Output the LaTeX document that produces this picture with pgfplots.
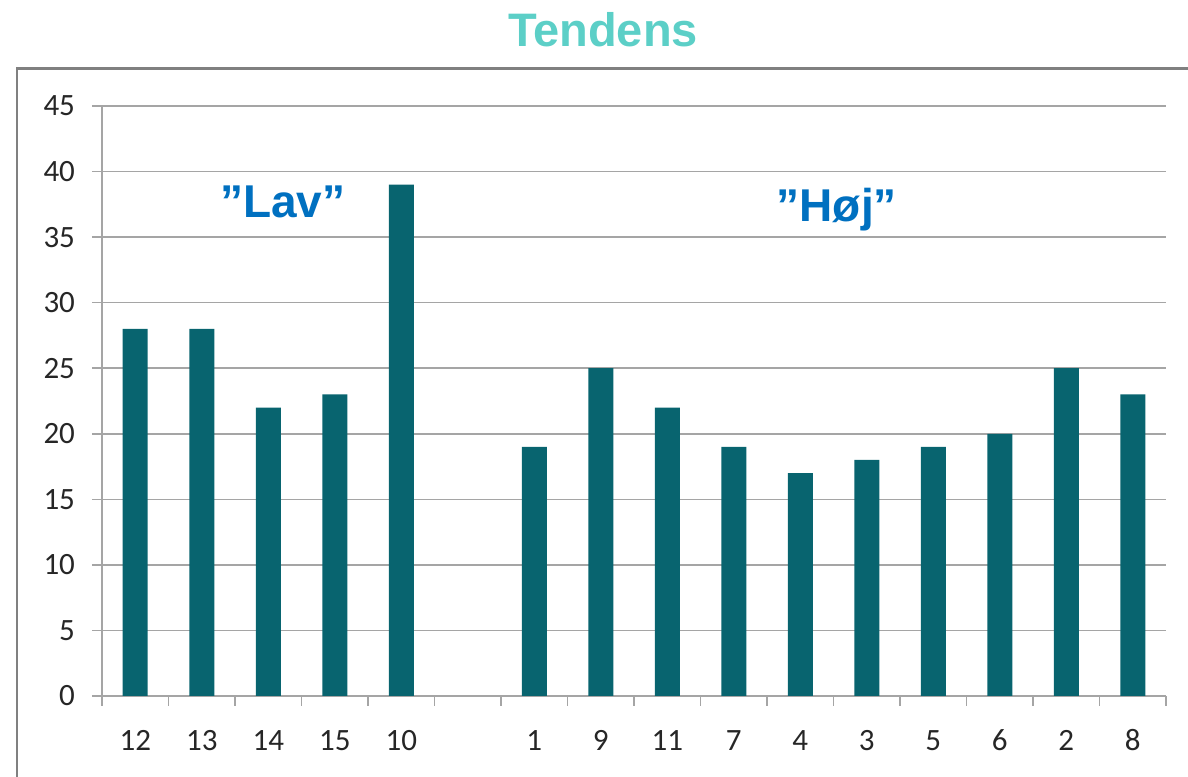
\documentclass[border=0pt]{standalone}
\usepackage{pgfplots}
\pgfplotsset{compat=1.18}
\usepackage{fontspec}
\setmainfont{Carlito}
\newfontfamily\arial{Liberation Sans}
\definecolor{barc}{RGB}{8,100,111}
\definecolor{ttl}{RGB}{92,207,199}
\definecolor{lbl}{RGB}{0,112,192}
\definecolor{grd}{RGB}{165,165,165}
\definecolor{brd}{RGB}{128,128,128}
\begin{document}
\begin{tikzpicture}
\useasboundingbox (0,0) rectangle (594pt,388pt);
\draw[line width=1.4pt, brd] (8.5pt,-5pt) -- (8.5pt,353.8pt) -- (600pt,353.8pt);
\node[ttl, font=\arial\bfseries\fontsize{23.5}{28}\selectfont, anchor=base] at (301.5pt,364.5pt) {Tendens};
\begin{axis}[
  at={(51pt,40pt)}, anchor=south west,
  scale only axis, width=532pt, height=295pt,
  xmin=-0.5, xmax=15.5, ymin=0, ymax=45,
  ytick={0,5,...,45},
  xtick={0,1,2,3,4,6,7,8,9,10,11,12,13,14,15},
  xticklabels={12,13,14,15,10,1,9,11,7,4,3,5,6,2,8},
  minor xtick={-0.5,0.5,...,15.5},
  axis lines=left, axis line style={grd, line width=0.8pt, -},
  ymajorgrids, grid style={grd, line width=0.8pt},
  tick style={grd, line width=0.8pt},
  tick align=outside,
  major x tick style={draw=none},
  minor x tick style={draw=grd, line width=0.8pt},
  minor tick length=5pt,
  major tick length=5pt,
  /pgf/number format/assume math mode=true,
  ticklabel style={font=\fontsize{15.5}{18}\selectfont, text=black!85},
  xticklabel style={anchor=base, yshift=-22pt},
  yticklabel style={anchor=east, xshift=-5pt},
  clip=false,
]
\addplot[ybar, bar width=12.5pt, fill=barc, draw=none] coordinates {
  (0,28) (1,28) (2,22) (3,23) (4,39)
  (6,19) (7,25) (8,22) (9,19) (10,17) (11,18) (12,19) (13,20) (14,25) (15,23)
};
\node[lbl, font=\arial\bfseries\fontsize{23}{28}\selectfont, anchor=base] at (axis cs:2.22,36.5) {”Lav”};
\node[lbl, font=\arial\bfseries\fontsize{23}{28}\selectfont, anchor=base] at (axis cs:10.55,36.2) {”Høj”};
\end{axis}
\end{tikzpicture}
\end{document}
